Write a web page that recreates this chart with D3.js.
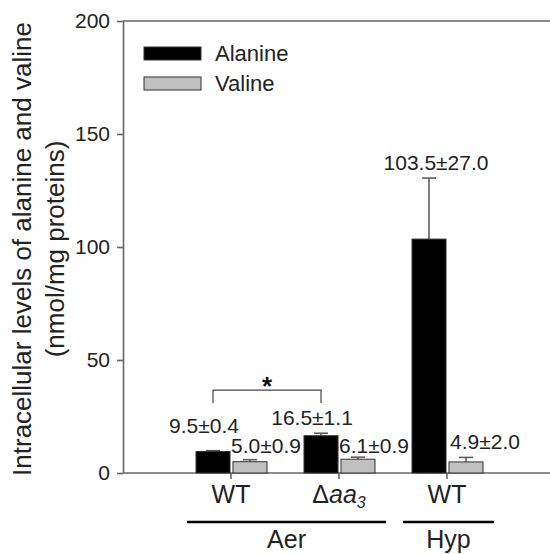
<!DOCTYPE html>
<meta charset="utf-8">
<style>
body { margin: 0; background: #fff; }
svg { font-family: "Liberation Sans", Arial, sans-serif; }
.axis path, .axis line { fill: none; stroke: #666; stroke-width: 1.6; }
.axis text { fill: #222; }
</style>
<body>
<svg id="chart" width="550" height="554"></svg>
<script src="https://d3js.org/d3.v7.min.js"></script>
<script>
// data
var catIds = ["aerWT", "aerAa3", "hypWT"];
var catLabels = ["WT", "Δaa3", "WT"];
var series = ["Alanine", "Valine"];
var alanineMean = [9.5, 16.5, 103.5];
var alanineErr = [0.4, 1.1, 27.0];
var valineMean = [5.0, 6.1, 4.9];
var valineErr = [0.9, 0.9, 2.0];
var yTicks = [0, 50, 100, 150, 200];
var groupLabels = ["Aer", "Hyp"];
var groupFrom = [0, 2];
var groupTo = [1, 2];

// label nudges (dx from bar centre, dy from error top)
var labelShift = {
  Alanine: [[-9, -18], [-9, -8], [7, -8]],
  Valine: [[16, -7], [16, -4], [19, -8]]
};

var colors = { Alanine: "#000", Valine: "#c0c0c0" };

var svg = d3.select("#chart");
var y = d3.scaleLinear().domain([0, 200]).range([473, 21]);
var x0 = d3.scaleBand().domain(catIds).range([177, 501]).paddingInner(0).paddingOuter(0);
var x1 = d3.scaleBand().domain(series).range([19, 90]).paddingInner(0.08);

var rows = catIds.map(function(id, i) {
  return {
    id: id,
    Alanine: { m: alanineMean[i], e: alanineErr[i] },
    Valine: { m: valineMean[i], e: valineErr[i] }
  };
});

// frame top line
svg.append("line")
  .attr("x1", 123).attr("x2", 550).attr("y1", y(200)).attr("y2", y(200))
  .attr("stroke", "#666").attr("stroke-width", 1.6);

// y axis
var yAxis = d3.axisLeft(y).tickValues(yTicks).tickSize(6).tickSizeOuter(0).tickPadding(7);
var gy = svg.append("g").attr("class", "axis").attr("transform", "translate(123,0)").call(yAxis);
gy.selectAll("text").style("font-size", "21px");

// x axis
var xAxis = d3.axisBottom(x0).tickSize(6).tickSizeOuter(0).tickPadding(6);
var gx = svg.append("g").attr("class", "axis").attr("transform", "translate(0," + y(0) + ")").call(xAxis);
gx.select(".domain").remove();
gx.append("line").attr("x1", 123).attr("x2", 550).attr("stroke", "#666").attr("stroke-width", 1.6);
gx.selectAll(".tick text").each(function(d, i) {
  var t = d3.select(this).text(null).style("font-size", "25px");
  var lab = catLabels[i];
  var m = lab.match(/^Δ(\D+)(\d+)$/);
  if (m) {
    t.append("tspan").text("Δ");
    t.append("tspan").style("font-style", "italic").text(m[1]);
    t.append("tspan").style("font-style", "italic").style("font-size", "16px")
      .attr("dy", "0.35em").text(m[2]);
  } else {
    t.text(lab);
  }
});

// bars
var cat = svg.selectAll(".cat").data(rows).enter().append("g")
  .attr("class", "cat")
  .attr("transform", function(d) { return "translate(" + x0(d.id) + ",0)"; });

series.forEach(function(s) {
  // error bars (upper only)
  cat.append("line")
    .attr("x1", x1(s) + x1.bandwidth() / 2).attr("x2", x1(s) + x1.bandwidth() / 2)
    .attr("y1", function(d) { return y(d[s].m); })
    .attr("y2", function(d) { return y(d[s].m + d[s].e); })
    .attr("stroke", "#555").attr("stroke-width", 1.5);
  cat.append("line")
    .attr("x1", x1(s) + x1.bandwidth() / 2 - 7).attr("x2", x1(s) + x1.bandwidth() / 2 + 7)
    .attr("y1", function(d) { return y(d[s].m + d[s].e); })
    .attr("y2", function(d) { return y(d[s].m + d[s].e); })
    .attr("stroke", "#555").attr("stroke-width", 1.5);
  cat.append("rect")
    .attr("x", x1(s))
    .attr("y", function(d) { return y(d[s].m); })
    .attr("width", x1.bandwidth())
    .attr("height", function(d) { return y(0) - y(d[s].m); })
    .attr("fill", colors[s])
    .attr("stroke", "#333").attr("stroke-width", 1);
  // value labels
  cat.append("text")
    .attr("x", function(d, i) { return x1(s) + x1.bandwidth() / 2 + labelShift[s][i][0]; })
    .attr("y", function(d, i) { return y(d[s].m + d[s].e) + labelShift[s][i][1]; })
    .attr("text-anchor", "middle")
    .style("font-size", "21px").attr("fill", "#222")
    .text(function(d) { return d3.format(".1f")(d[s].m) + "±" + d3.format(".1f")(d[s].e); });
});

// significance bracket between alanine WT and Δaa3
var bx1 = x0(catIds[0]) + x1("Alanine") + x1.bandwidth() / 2;
var bx2 = x0(catIds[1]) + x1("Alanine") + x1.bandwidth() / 2;
var bTop = y(36.7), bLeg = y(31);
svg.append("path")
  .attr("d", "M" + bx1 + "," + bLeg + "V" + bTop + "H" + bx2 + "V" + bLeg)
  .attr("fill", "none").attr("stroke", "#444").attr("stroke-width", 1.2);
svg.append("text")
  .attr("x", (bx1 + bx2) / 2).attr("y", bTop + 5)
  .attr("text-anchor", "middle")
  .style("font-size", "26px").style("font-weight", "bold").attr("fill", "#111")
  .text("*");

// group lines and labels
groupLabels.forEach(function(g, i) {
  var gx1 = x0(catIds[groupFrom[i]]) + 10;
  var gx2 = x0(catIds[groupTo[i]]) + 101;
  svg.append("line").attr("x1", gx1).attr("x2", gx2).attr("y1", 522).attr("y2", 522)
    .attr("stroke", "#000").attr("stroke-width", 2.5);
  svg.append("text").attr("x", (gx1 + gx2) / 2).attr("y", 548)
    .attr("text-anchor", "middle").style("font-size", "25px").attr("fill", "#222")
    .text(g);
});

// legend
var leg = svg.append("g").attr("transform", "translate(144,47)");
series.forEach(function(s, i) {
  leg.append("rect").attr("x", 0).attr("y", i * 30).attr("width", 57).attr("height", 13)
    .attr("fill", colors[s]).attr("stroke", "#333").attr("stroke-width", 1);
  leg.append("text").attr("x", 71).attr("y", i * 30 + 6.5).attr("dy", "0.35em")
    .style("font-size", "22px").attr("fill", "#222").text(s);
});

// y title
var yt = svg.append("text")
  .attr("transform", "translate(0,249) rotate(-90)")
  .attr("text-anchor", "middle")
  .style("font-size", "26px").attr("fill", "#222");
yt.append("tspan").attr("x", 0).attr("y", 31).text("Intracellular levels of alanine and valine");
yt.append("tspan").attr("x", 0).attr("y", 64).text("(nmol/mg proteins)");
</script>
</body>
